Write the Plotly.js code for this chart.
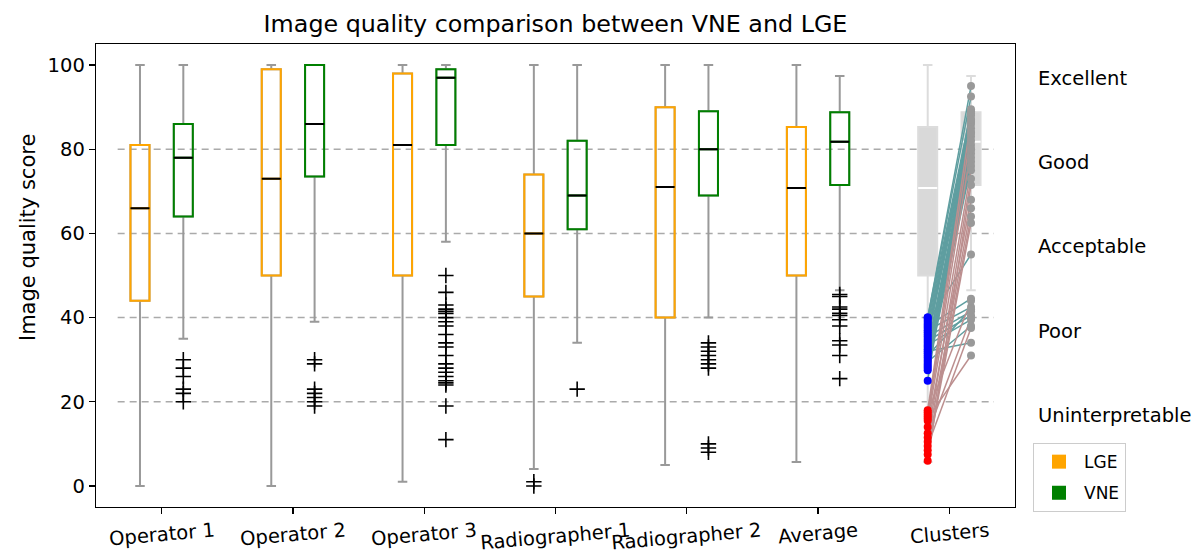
<!DOCTYPE html>
<html><head><meta charset="utf-8">
<script src="https://cdn.plot.ly/plotly-3.0.1.min.js"></script>
<style>body{margin:0;background:#fff}#chart{width:1198px;height:554px}</style>
</head><body><div id="chart"></div>
<script>
const categories = ["Operator 1","Operator 2","Operator 3","Radiographer 1","Radiographer 2","Average","Clusters"];

// LGE box statistics (first six columns)
const lgeLower  = [0, 0, 1, 4, 5, 5.7];
const lgeQ1     = [44, 50, 50, 45, 40, 50];
const lgeMedian = [66, 73, 81, 60, 71, 70.8];
const lgeQ3     = [81, 99, 98, 74, 90, 85.3];
const lgeUpper  = [100, 100, 100, 100, 100, 100];
const lgeOutliers = [[], [], [], [1, 0], [], []];

// VNE box statistics (first six columns)
const vneLower  = [35, 39, 58, 34, 40, 46.5];
const vneQ1     = [64, 73.5, 81, 61, 69, 71.5];
const vneMedian = [78, 86, 97, 69, 80, 81.8];
const vneQ3     = [86, 100, 99, 82, 89, 88.8];
const vneUpper  = [100, 100, 100, 100, 100, 97.4];
const vneOutliers = [
  [30, 28, 26, 23, 22, 20],
  [30, 29, 23, 22, 21, 20, 19],
  [50, 46, 43, 42, 41.5, 41, 40, 39, 38, 36, 34, 33, 31, 29, 28, 27, 26, 25, 24.5, 24, 19, 11],
  [23],
  [34, 33, 32, 31, 30, 29, 28, 10, 9, 8],
  [45.5, 45, 42.5, 42, 41, 40.5, 39.5, 38, 34.5, 33.5, 31, 25.5]
];

// Clusters column: box stats [lower, q1, median, q3, upper]
const clusterLgeBox = [5.7, 50, 70.8, 85.3, 100];
const clusterVneBox = [46.5, 71.5, 81.8, 88.8, 97.4];
// Cluster 1 (poor LGE) paired scores
const cluster1LGE = [40, 40, 39.5, 39, 38.5, 38, 37.5, 37, 36.5, 36, 35.5, 35, 34.5, 34, 33.5, 33, 32.5, 32, 31.5, 31, 30.5, 30, 29.5, 29, 28.5, 28, 27.5, 25];
const cluster1VNE = [95, 92.5, 89, 55, 88, 44.5, 87, 42.5, 86, 85, 41.5, 84, 40.5, 89.5, 39.5, 83, 82, 34, 81, 42, 80, 79, 38, 78, 77, 86.5, 76, 88.5];
// Cluster 2 (uninterpretable LGE) paired scores
const cluster2LGE = [18, 17.5, 17, 16.5, 16, 15.5, 14, 12.5, 11.5, 10.5, 9.5, 8.5, 7.5, 6];
const cluster2VNE = [87, 44, 84, 80, 31, 75, 68, 40, 73, 66, 37.5, 64, 62.5, 71.5];

const scoreLabels = ["Excellent", "Good", "Acceptable", "Poor", "Uninterpretable"];
const scoreLevels = [100, 80, 60, 40, 20];
const gridLevels = [20, 40, 60, 80];

const FONT = "DejaVu Sans, sans-serif";
const OFF = 0.165, BW = 0.145;
const traces = [];

function boxSet(offset, color, lo, q1, med, q3, hi, outs) {
  const xs = lo.map((_, i) => i + 1 + offset);
  const common = {type: "box", x: xs, width: BW, boxpoints: false, showlegend: false, hoverinfo: "skip", fillcolor: "rgba(0,0,0,0)"};
  traces.push(Object.assign({}, common, {q1: q1, median: med, q3: q3, lowerfence: lo, upperfence: hi,
    line: {color: "#999999", width: 2}, whiskerwidth: 0.5}));
  traces.push(Object.assign({}, common, {q1: q1, median: med, q3: q3, lowerfence: q1, upperfence: q3,
    line: {color: color, width: 2}, whiskerwidth: 0}));
  traces.push(Object.assign({}, common, {q1: med, median: med, q3: med, lowerfence: med, upperfence: med,
    line: {color: "#000000", width: 2}, whiskerwidth: 0}));
  const ox = [], oy = [];
  outs.forEach((arr, i) => arr.forEach(v => { ox.push(i + 1 + offset); oy.push(v); }));
  traces.push({type: "scatter", mode: "markers", x: ox, y: oy, showlegend: false, hoverinfo: "skip",
    marker: {symbol: "cross-thin", size: 11, color: "#000", line: {color: "#000", width: 1.6}}});
}
boxSet(-OFF, "#FFA500", lgeLower, lgeQ1, lgeMedian, lgeQ3, lgeUpper, lgeOutliers);
boxSet(OFF, "#008000", vneLower, vneQ1, vneMedian, vneQ3, vneUpper, vneOutliers);

// Cluster boxes
const cpos = categories.length;
[[clusterLgeBox, -OFF], [clusterVneBox, OFF]].forEach(([b, off]) => {
  traces.push({type: "box", x: [cpos + off], width: BW, boxpoints: false, showlegend: false, hoverinfo: "skip",
    q1: [b[1]], median: [b[2]], q3: [b[3]], lowerfence: [b[0]], upperfence: [b[4]],
    fillcolor: "#d9d9d9", line: {color: "#dcdcdc", width: 2}, whiskerwidth: 0.5});
  traces.push({type: "box", x: [cpos + off], width: BW, boxpoints: false, showlegend: false, hoverinfo: "skip",
    q1: [b[2]], median: [b[2]], q3: [b[2]], lowerfence: [b[2]], upperfence: [b[2]],
    fillcolor: "rgba(0,0,0,0)", line: {color: "#ffffff", width: 2}, whiskerwidth: 0});
});

function pairLines(lge, vne, color) {
  const x = [], y = [];
  lge.forEach((v, i) => { x.push(cpos - OFF, cpos + OFF, null); y.push(v, vne[i], null); });
  traces.push({type: "scatter", mode: "lines", x: x, y: y, showlegend: false, hoverinfo: "skip",
    line: {color: color, width: 1.5}});
}
pairLines(cluster1LGE, cluster1VNE, "#5f9ea0");
pairLines(cluster2LGE, cluster2VNE, "#bc8f8f");
traces.push({type: "scatter", mode: "markers", x: cluster1LGE.map(() => cpos - OFF), y: cluster1LGE, showlegend: false,
  marker: {color: "#0000ff", size: 8}});
traces.push({type: "scatter", mode: "markers", x: cluster2LGE.map(() => cpos - OFF), y: cluster2LGE, showlegend: false,
  marker: {color: "#ff0000", size: 8}});
const allVne = cluster1VNE.concat(cluster2VNE);
traces.push({type: "scatter", mode: "markers", x: allVne.map(() => cpos + OFF), y: allVne, showlegend: false,
  marker: {color: "#999999", size: 8}});

// Legend entries
traces.push({type: "scatter", mode: "markers", x: [null], y: [null], name: "LGE", legendgroup: "a",
  marker: {symbol: "square", size: 14, color: "#FFA500"}});
traces.push({type: "scatter", mode: "markers", x: [null], y: [null], name: "VNE", legendgroup: "b",
  marker: {symbol: "square", size: 14, color: "#008000"}});

const shapes = gridLevels.map(v => ({type: "line", xref: "x", yref: "y", x0: 0.665, x1: 7.34, y0: v, y1: v,
  layer: "below", line: {color: "#aaaaaa", width: 1.5, dash: "7px,5px"}}));

const annotations = scoreLabels.map((t, i) => ({text: t, xref: "paper", yref: "y", x: 1.023, y: scoreLevels[i],
  xanchor: "left", yanchor: "top", showarrow: false, font: {family: FONT, size: 19.5, color: "#000"}}));
categories.forEach((c, i) => annotations.push({text: c, xref: "x", yref: "paper", x: i + 1, y: 0, yshift: -9,
  xanchor: "center", yanchor: "top", textangle: -5, showarrow: false, font: {family: FONT, size: 19.5, color: "#000"}}));
annotations.push({text: "Image quality score", xref: "paper", yref: "paper", x: -0.074, y: 0.583,
  xanchor: "center", yanchor: "middle", textangle: -90, showarrow: false, font: {family: FONT, size: 21, color: "#000"}});

const axisCommon = {showline: true, mirror: true, linecolor: "#000", linewidth: 1.3, ticks: "outside", ticklen: 6,
  tickcolor: "#000", tickwidth: 1.3, showgrid: false, zeroline: false, tickfont: {family: FONT, size: 19.5, color: "#000"}};

const layout = {
  width: 1198, height: 554,
  margin: {l: 96, r: 183, t: 44, b: 47},
  paper_bgcolor: "#fff", plot_bgcolor: "#fff",
  title: {text: "Image quality comparison between VNE and LGE", x: 0.5, xref: "paper", y: 0.958, yanchor: "middle",
    font: {family: FONT, size: 23.8, color: "#000"}},
  xaxis: Object.assign({}, axisCommon, {range: [0.5, 7.5], tickvals: categories.map((_, i) => i + 1), showticklabels: false}),
  yaxis: Object.assign({}, axisCommon, {range: [-5, 105], tickvals: [0, 20, 40, 60, 80, 100]}),
  showlegend: true,
  legend: {x: 1.0196, xanchor: "left", y: 0.138, yanchor: "top", bgcolor: "#fff", bordercolor: "#cccccc", borderwidth: 1,
    font: {family: FONT, size: 17, color: "#000"}, itemwidth: 40, tracegroupgap: 6},
  shapes: shapes,
  annotations: annotations,
  boxmode: "overlay"
};

Plotly.newPlot("chart", traces, layout, {staticPlot: true});
</script>
</body></html>
